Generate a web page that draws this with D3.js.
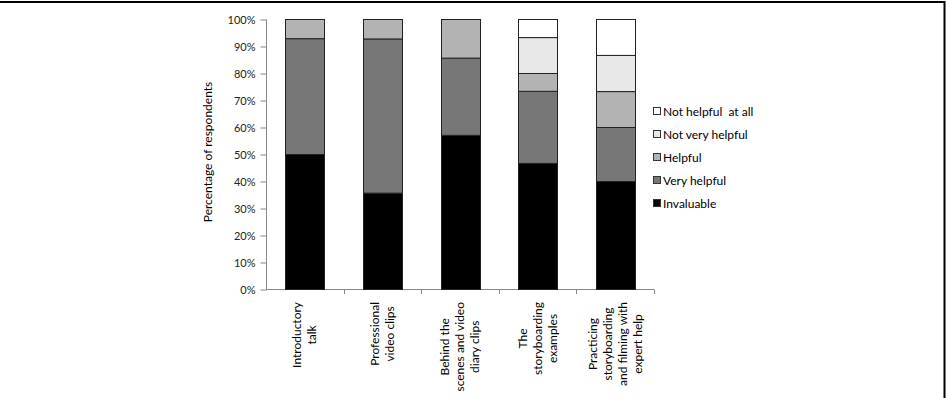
<!DOCTYPE html>
<html>
<head>
<meta charset="utf-8">
<script src="https://cdn.jsdelivr.net/npm/d3@7"></script>
<style>
  body { margin: 0; background: #fff; }
  svg { display: block; font-family: Lato, "Liberation Sans", sans-serif; }
</style>
</head>
<body>
<div id="chart"></div>
<script>
const categories = [
  ["Introductory", "talk"],
  ["Professional", "video clips"],
  ["Behind the", "scenes and video", "diary clips"],
  ["The", "storyboarding", "examples"],
  ["Practicing", "storyboarding", "and filming with", "expert help"]
];
const seriesNames = ["Invaluable", "Very helpful", "Helpful", "Not very helpful", "Not helpful  at all"];
const invaluable     = [50.0, 35.7, 57.1, 46.7, 40.0];
const veryHelpful    = [42.9, 57.1, 28.6, 26.7, 20.0];
const helpful        = [7.1, 7.2, 14.3, 6.6, 13.3];
const notVeryHelpful = [0, 0, 0, 13.3, 13.4];
const notHelpful     = [0, 0, 0, 6.7, 13.3];
const yTicks = [0, 10, 20, 30, 40, 50, 60, 70, 80, 90, 100];
const colors = ["#000000", "#777777", "#b3b3b3", "#e8e8e8", "#ffffff"];

const width = 946, height = 398;
const svg = d3.select("#chart").append("svg")
  .attr("width", width)
  .attr("height", height);

// frame
svg.append("line").attr("x1", 0).attr("x2", 945).attr("y1", 2).attr("y2", 2)
  .attr("stroke", "#000").attr("stroke-width", 2);
svg.append("line").attr("x1", 944.5).attr("x2", 944.5).attr("y1", 1).attr("y2", 398)
  .attr("stroke", "#000").attr("stroke-width", 2);

const keys = d3.range(seriesNames.length);
const rows = categories.map((c, i) => ({
  i: i,
  0: invaluable[i], 1: veryHelpful[i], 2: helpful[i], 3: notVeryHelpful[i], 4: notHelpful[i]
}));
const stacked = d3.stack().keys(keys)(rows);

const x = d3.scaleBand().domain(d3.range(categories.length)).range([266, 654]).paddingInner(0.5).paddingOuter(0.25);
const y = d3.scaleLinear().domain([0, 100]).range([289.5, 19.5]);

// y axis
const yAxis = svg.append("g").attr("transform", "translate(266.5,0)")
  .call(d3.axisLeft(y).tickValues(yTicks).tickSize(6).tickPadding(5).tickFormat(d => d + "%"));
yAxis.select(".domain").attr("stroke", "#888").attr("d", "M0," + y(100) + "V" + y(0));
yAxis.selectAll(".tick line").attr("stroke", "#888");
yAxis.selectAll(".tick text").attr("fill", "#222").style("font-size", "11px")
  .style("font-family", "Lato, sans-serif");

// x axis line and ticks between categories
const bandStep = x.step();
const xBounds = d3.range(categories.length + 1).map(i => 266 + i * bandStep);
svg.append("line").attr("x1", 266).attr("x2", 654).attr("y1", 289.5).attr("y2", 289.5)
  .attr("stroke", "#888");
svg.selectAll("line.xtick").data(xBounds.slice(1)).enter().append("line")
  .attr("class", "xtick")
  .attr("x1", d => Math.round(d) + 0.5).attr("x2", d => Math.round(d) + 0.5)
  .attr("y1", 289.5).attr("y2", 294)
  .attr("stroke", "#888");

// bars
svg.append("g").selectAll("g").data(stacked).enter().append("g")
  .attr("fill", (d, k) => colors[k])
  .selectAll("rect").data(d => d.filter(s => s[1] - s[0] > 0)).enter().append("rect")
  .attr("x", d => Math.round(x(d.data.i)) + 0.5)
  .attr("y", d => y(d[1]))
  .attr("width", Math.round(x.bandwidth()))
  .attr("height", d => y(d[0]) - y(d[1]))
  .attr("stroke", "#222")
  .attr("stroke-width", 1);

// x labels (rotated, lines centered, block starts just below the axis)
categories.forEach((lines, i) => {
  const cx = x(i) + x.bandwidth() / 2;
  const g = svg.append("g");
  const texts = lines.map((ln, j) => g.append("text")
    .attr("text-anchor", "middle")
    .style("font-size", "12px")
    .attr("fill", "#000")
    .text(ln));
  const maxLen = d3.max(texts, t => t.node().getComputedTextLength());
  const cy = 302 + maxLen / 2;
  texts.forEach((t, j) => {
    const lx = cx + (j - (lines.length - 1) / 2) * 15 + 4;
    t.attr("transform", "translate(" + lx + "," + cy + ") rotate(-90)");
  });
});

// y axis title
svg.append("text")
  .attr("transform", "translate(212,152) rotate(-90)")
  .attr("text-anchor", "middle")
  .style("font-size", "12px")
  .attr("fill", "#000")
  .text("Percentage of respondents");

// legend (top to bottom, reversed order)
const legendOrder = keys.slice().reverse();
const legend = svg.append("g").selectAll("g").data(legendOrder).enter().append("g")
  .attr("transform", (k, j) => "translate(653," + (112 + j * 23) + ")");
legend.append("rect")
  .attr("x", 0.5).attr("y", -4.5).attr("width", 7).attr("height", 7)
  .attr("fill", k => colors[k]).attr("stroke", "#333");
legend.append("text")
  .attr("x", 10).attr("y", 0).attr("dy", "0.35em")
  .style("font-size", "12px")
  .style("white-space", "pre")
  .attr("fill", "#000")
  .text(k => seriesNames[k]);
</script>
</body>
</html>
